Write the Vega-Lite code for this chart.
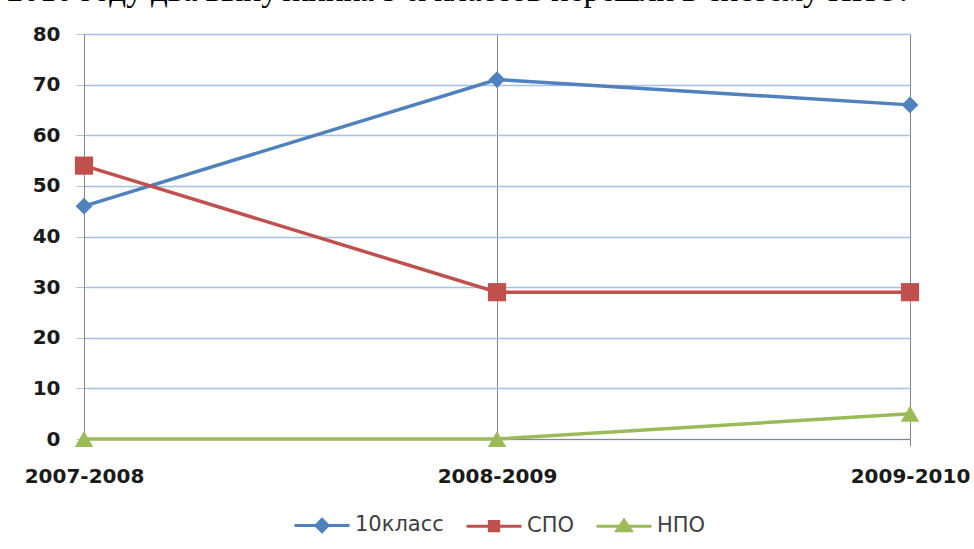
{
  "$schema": "https://vega.github.io/schema/vega-lite/v6.json",
  "autosize": {"type": "none"},
  "width": 826,
  "height": 405,
  "padding": {"left": 84, "top": 34, "right": 64, "bottom": 110},
  "background": "white",
  "title": {
    "text": "в 2010 году  два выпускника 9-х классов перешли в систему НПО.",
    "font": "Liberation Serif",
    "fontSize": 33,
    "fontWeight": "normal",
    "color": "#000000",
    "anchor": "start",
    "frame": "group",
    "baseline": "alphabetic",
    "offset": 3,
    "dx": -101,
    "dy": 13
  },
  "config": {
    "view": {"stroke": null},
    "axis": {"labelFont": "DejaVu Sans", "labelFontWeight": "bold", "labelFontSize": 20, "labelColor": "#1a1a1a"},
    "legend": {"labelFont": "DejaVu Sans", "labelFontSize": 21, "labelColor": "#404040"}
  },
  "data": {
    "values": [
      {"year": "2007-2008", "series": "10класс", "value": 46},
      {"year": "2008-2009", "series": "10класс", "value": 71},
      {"year": "2009-2010", "series": "10класс", "value": 66},
      {"year": "2007-2008", "series": "СПО", "value": 54},
      {"year": "2008-2009", "series": "СПО", "value": 29},
      {"year": "2009-2010", "series": "СПО", "value": 29},
      {"year": "2007-2008", "series": "НПО", "value": 0},
      {"year": "2008-2009", "series": "НПО", "value": 0},
      {"year": "2009-2010", "series": "НПО", "value": 5}
    ]
  },
  "encoding": {
    "x": {
      "field": "year",
      "type": "ordinal",
      "scale": {"type": "point", "padding": 0},
      "axis": {
        "title": null,
        "labelAngle": 0,
        "labelPadding": 20,
        "grid": true,
        "gridColor": "#868686",
        "gridWidth": 1,
        "ticks": true,
        "tickColor": "#868686",
        "tickSize": 7,
        "domain": true,
        "domainColor": "#868686"
      }
    },
    "y": {
      "field": "value",
      "type": "quantitative",
      "scale": {"domain": [0, 80], "nice": false, "zero": true},
      "axis": {
        "title": null,
        "values": [0, 10, 20, 30, 40, 50, 60, 70, 80],
        "grid": true,
        "gridColor": "#a4c0e4",
        "gridWidth": 1.5,
        "ticks": true,
        "tickColor": "#c0c0c0",
        "tickSize": 8,
        "labelPadding": 16,
        "domain": true,
        "domainColor": "#868686"
      }
    },
    "color": {
      "field": "series",
      "type": "nominal",
      "sort": ["10класс", "СПО", "НПО"],
      "scale": {"domain": ["10класс", "СПО", "НПО"], "range": ["#4f81bd", "#c0504d", "#9bbb59"]},
      "legend": {
        "title": null,
        "orient": "none",
        "direction": "horizontal",
        "legendX": 209,
        "legendY": 462,
        "symbolSize": 3025,
        "symbolStrokeWidth": 3,
        "labelOffset": 4,
        "columnPadding": 16,
        "encode": {
          "symbols": {
            "update": {
              "shape": {"signal": "datum.value === '10класс' ? 'M-1,0L1,0M-0.22,0L0,-0.22L0.22,0L0,0.22Z' : datum.value === 'СПО' ? 'M-1,0L1,0M-0.17,-0.17L0.17,-0.17L0.17,0.17L-0.17,0.17Z' : 'M-1,0L1,0M-0.26,0.16L0,-0.22L0.26,0.16Z'"},
              "fill": {"scale": "color", "field": "value"},
              "stroke": {"scale": "color", "field": "value"},
              "strokeWidth": {"value": 3},
              "opacity": {"value": 1},
              "fillOpacity": {"value": 1}
            }
          }
        }
      }
    }
  },
  "layer": [
    {
      "mark": {"type": "line", "strokeWidth": 3.5}
    },
    {
      "transform": [{"filter": "datum.series === '10класс'"}],
      "mark": {"type": "point", "filled": true, "opacity": 1, "shape": "diamond", "size": 280}
    },
    {
      "transform": [{"filter": "datum.series === 'СПО'"}],
      "mark": {"type": "point", "filled": true, "opacity": 1, "shape": "square", "size": 330}
    },
    {
      "transform": [{"filter": "datum.series === 'НПО'"}],
      "mark": {"type": "point", "filled": true, "opacity": 1, "shape": "triangle-up", "size": 340}
    }
  ]
}
